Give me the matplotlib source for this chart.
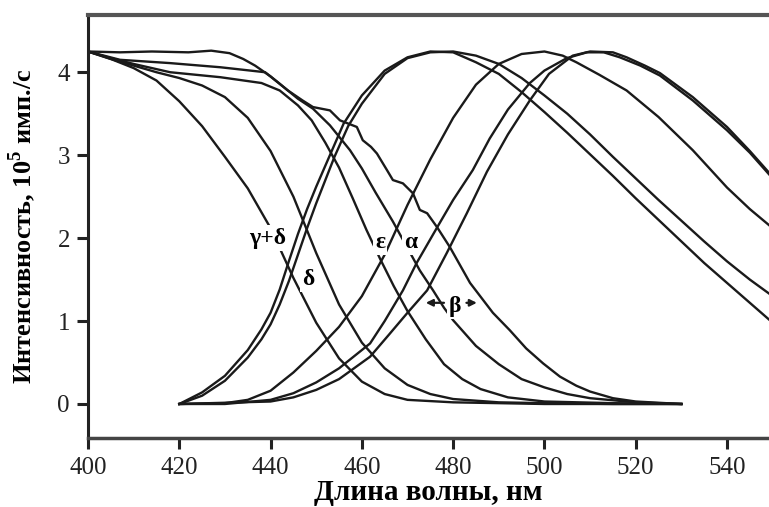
import numpy as np
import matplotlib.pyplot as plt

# descending spectra (start 400 nm, end 530 nm)
wl_gd = [400,405,410,415,420,425,430,435,440,445,450,455,460,465,470,480,490,500,515,530]
i_gd = [4.25,4.16,4.05,3.9,3.65,3.35,2.98,2.6,2.12,1.52,0.98,0.55,0.27,0.12,0.05,0.02,0.01,0,0,0]

wl_d = [400,405,410,415,420,425,430,435,440,445,450,455,460,465,470,475,480,490,500,515,530]
i_d = [4.25,4.16,4.08,4.0,3.93,3.84,3.7,3.45,3.05,2.5,1.82,1.2,0.74,0.43,0.23,0.12,0.06,0.02,0.01,0,0]

wl_e = [400,405,410,418,429,438,442,446,449,452,455,458,461,464,467,470,474,478,482,486,492,500,515,530]
i_e = [4.25,4.17,4.1,4.0,3.94,3.87,3.78,3.6,3.42,3.15,2.85,2.48,2.1,1.75,1.42,1.12,0.78,0.48,0.3,0.18,0.08,0.03,0.01,0]

wl_b = [400,407,418,429,438.8,442,446,449.3,453,457.4,460,463,466.8,470,472.7,475.6,478,480,485,490,495,500,505,510,520,530]
i_b = [4.25,4.15,4.11,4.06,4.0,3.86,3.68,3.56,3.36,3.06,2.84,2.55,2.2,1.88,1.61,1.37,1.16,1.01,0.7,0.48,0.3,0.2,0.12,0.07,0.02,0]

wl_a = [400,407,414,422,427,431,434,436.6,440,443.8,447,449.3,453,455.2,458.9,460.2,462,463.3,465.5,466.8,469,471.2,
        472.7,474.3,476.5,479.3,483.7,488.7,492.4,496,499.7,503.4,507,510,515,520,530]
i_a = [4.25,4.24,4.25,4.24,4.26,4.23,4.16,4.08,3.95,3.78,3.66,3.58,3.54,3.42,3.34,3.18,3.1,3.02,2.82,2.70,2.66,2.54,
       2.34,2.30,2.13,1.89,1.46,1.1,0.89,0.67,0.49,0.33,0.22,0.15,0.07,0.03,0]

# rising spectra (start 420 nm)
wl_r1 = [420,425,430,435,438,440,442,444,446,448,450,453,456,460,465,470,475,480,485,490,495,500,505,510,515,520,525,530,535,540,545,550]
i_r1 = [0,0.14,0.34,0.65,0.9,1.1,1.38,1.72,2.05,2.35,2.62,3.0,3.38,3.72,4.02,4.18,4.25,4.24,4.12,3.98,3.76,3.52,3.27,3.01,2.75,2.48,2.22,1.96,1.7,1.46,1.22,0.98]

wl_r2 = [420,425,430,435,438,440,442,444,446,448,450,454,457,460,465,470,475,480,485,490,495,500,505,510,515,520,525,530,535,540,545,550]
i_r2 = [0,0.1,0.28,0.56,0.78,0.96,1.2,1.48,1.8,2.12,2.42,2.98,3.35,3.62,3.98,4.17,4.24,4.25,4.2,4.1,3.93,3.72,3.5,3.25,2.98,2.72,2.46,2.21,1.96,1.72,1.5,1.3]

wl_r3 = [420,430,435,440,445,450,455,460,465,470,475,480,485,490,495,500,504,507,512,518,525,532.5,540,545,550]
i_r3 = [0,0.01,0.05,0.16,0.38,0.64,0.93,1.3,1.8,2.4,2.95,3.45,3.85,4.1,4.22,4.25,4.2,4.12,3.97,3.78,3.46,3.06,2.61,2.35,2.12]

wl_r4 = [420,430,440,445,450,455,461.8,465,469,472,476.5,480,484.3,488,492,496.8,500,504.9,509.3,513,516.5,521,525.3,532.5,540,545,550]
i_r4 = [0,0,0.05,0.13,0.26,0.43,0.73,1.0,1.37,1.7,2.13,2.46,2.82,3.2,3.55,3.87,4.02,4.17,4.24,4.24,4.18,4.08,3.96,3.66,3.30,3.03,2.72]

wl_r5 = [420,440,445,450,455,461.8,466,470,474.3,478.6,483,487.4,492,496.8,501,506.2,510,515,518,522,525.3,532.5,540,545,550]
i_r5 = [0,0.03,0.08,0.17,0.3,0.57,0.84,1.1,1.37,1.82,2.3,2.8,3.25,3.66,3.98,4.20,4.25,4.24,4.18,4.08,3.99,3.70,3.34,3.05,2.74]

curves = [(wl_gd, i_gd), (wl_d, i_d), (wl_e, i_e), (wl_b, i_b), (wl_a, i_a),
          (wl_r1, i_r1), (wl_r2, i_r2), (wl_r3, i_r3), (wl_r4, i_r4), (wl_r5, i_r5)]

xticks = [400, 420, 440, 460, 480, 500, 520, 540]
yticks = [0, 1, 2, 3, 4]

plt.rcParams['font.family'] = 'serif'
plt.rcParams['font.serif'] = ['Liberation Serif', 'DejaVu Serif']
plt.rcParams['mathtext.fontset'] = 'custom'
plt.rcParams['mathtext.rm'] = 'Liberation Serif'
plt.rcParams['mathtext.bf'] = 'Liberation Serif:bold'

fig = plt.figure(figsize=(7.69, 5.07), dpi=100)
ax = fig.add_axes([88/769, 69/507, 1 - 88/769, (438-15)/507])

for wl, inten in curves:
    ax.plot(wl, inten, color='#1a1a1a', lw=1.7)

ax.set_xlim(400, 549.2)
ax.set_ylim(-0.41, 4.69)
ax.set_xticks(xticks)
ax.set_yticks(yticks)
ax.tick_params(axis='both', labelsize=18, direction='out', length=8, width=2.2, colors='#222222')
ax.tick_params(axis='x', pad=6)
ax.tick_params(axis='y', pad=5)

ax.spines['right'].set_visible(False)
ax.spines['left'].set_linewidth(2.2)
ax.spines['left'].set_color('#222222')
ax.spines['bottom'].set_linewidth(2.5)
ax.spines['bottom'].set_color('#444444')
ax.spines['top'].set_linewidth(3)
ax.spines['top'].set_color('#555555')

box = dict(fc='white', ec='none', pad=1.5)
ax.text(439.3, 2.0, 'γ+δ', fontsize=17, fontweight='bold', ha='center', va='center', bbox=box)
ax.text(448.2, 1.5, 'δ', fontsize=17, fontweight='bold', ha='center', va='center', bbox=box)
ax.text(464.0, 1.95, 'ε', fontsize=17, fontweight='bold', ha='center', va='center', bbox=box)
ax.text(470.6, 1.95, 'α', fontsize=17, fontweight='bold', ha='center', va='center', bbox=box)
ax.text(480.4, 1.18, 'β', fontsize=17, fontweight='bold', ha='center', va='center', bbox=box)
ax.annotate('', xy=(473.4, 1.22), xytext=(478.6, 1.22),
            arrowprops=dict(arrowstyle='-|>', color='#1a1a1a', lw=1.6, mutation_scale=10))
ax.annotate('', xy=(485.8, 1.22), xytext=(482.3, 1.22),
            arrowprops=dict(arrowstyle='-|>', color='#1a1a1a', lw=1.6, mutation_scale=10))

ax.set_xlabel('Длина волны, нм', fontsize=21, fontweight='bold', labelpad=0)
ax.set_ylabel(r'Интенсивность, 10$^{\mathbf{5}}$ имп./с', fontsize=19, fontweight='bold', labelpad=14)

plt.savefig('out.png', dpi=100)
